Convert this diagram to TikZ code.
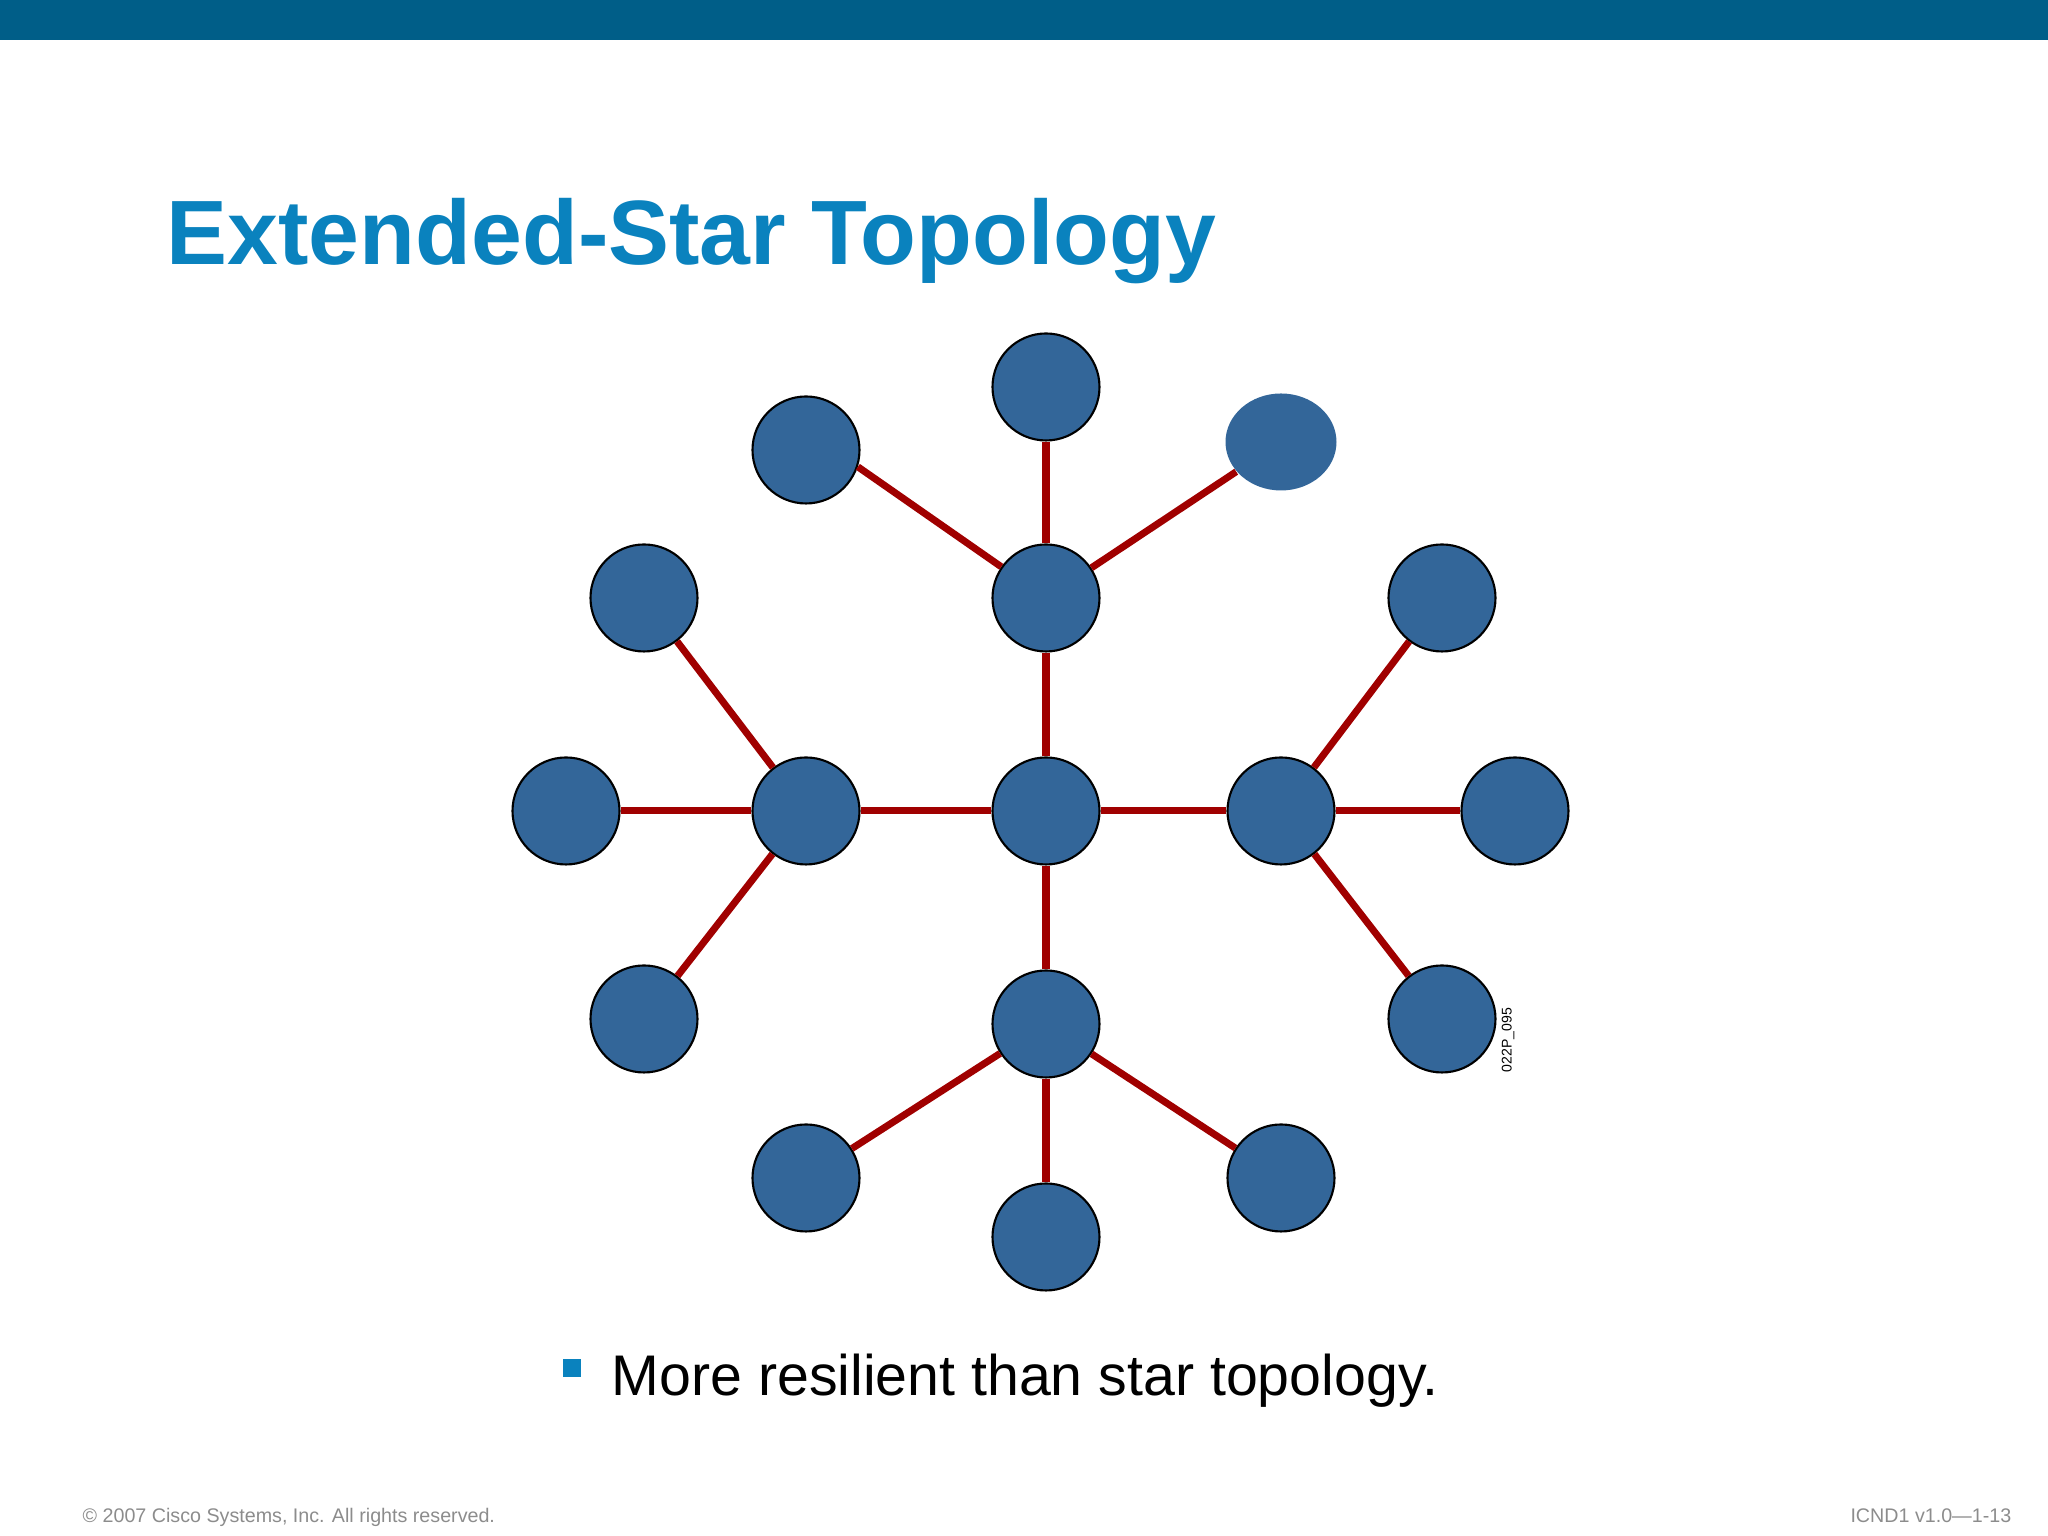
\documentclass[tikz,border=0pt]{standalone}
\usepackage{fontspec}
\setmainfont{Liberation Sans}
\usepackage{tikz}
\usetikzlibrary{shapes.geometric, positioning}
\definecolor{barblue}{HTML}{005E88}
\definecolor{titleblue}{HTML}{0A82BE}
\definecolor{nodeblue}{HTML}{336699}
\definecolor{linkred}{HTML}{A00000}
\definecolor{footgrey}{HTML}{8C8C8C}

\begin{document}
\begin{tikzpicture}[
		station/.style={circle, draw=black, line width=0.6pt, fill=nodeblue, minimum size=1.07cm, inner sep=0pt},
		link/.style={linkred, line width=2pt},
		foot/.style={footgrey, font=\fontsize{5.6}{6}\selectfont, inner sep=0pt}
	]
		\useasboundingbox (0,0) rectangle (20.48,15.36);
		\fill[barblue] (0,14.96) rectangle (20.48,15.36);
		\node[anchor=base west, inner sep=0pt, text=titleblue, font=\fontsize{26}{30}\selectfont\bfseries] (title) at (1.66,12.71) {Extended-Star Topology};

		\node[station] (c) at (10.46,7.25) {};
		\node[station] (t) at (10.46,9.38) {};
		\node[station] (l) at (8.06,7.25) {};
		\node[station] (r) at (12.81,7.25) {};
		\node[station] (b) at (10.46,5.12) {};
		\node[station] (tt) at (10.46,11.49) {};
		\node[station] (tl) at (8.06,10.86) {};
		\node[ellipse, fill=nodeblue, minimum width=1.11cm, minimum height=0.97cm, inner sep=0pt] (tr) at (12.81,10.94) {};
		\node[station] (l1) at (6.44,9.38) {};
		\node[station] (l2) at (5.66,7.25) {};
		\node[station] (l3) at (6.44,5.17) {};
		\node[station] (r1) at (14.42,9.38) {};
		\node[station] (r2) at (15.15,7.25) {};
		\node[station] (r3) at (14.42,5.17) {};
		\node[station] (b1) at (8.06,3.58) {};
		\node[station] (b2) at (10.46,2.99) {};
		\node[station] (b3) at (12.81,3.58) {};

		\foreach \hub/\leaf in {c/t, c/l, c/r, c/b, t/tt, t/tr, l/l1, l/l2, l/l3, r/r1, r/r2, r/r3, b/b1, b/b2, b/b3}
		\draw[link] (\hub) -- (\leaf);
		\draw[link] (tl.-18) -- (t);

		\node[rotate=90, inner sep=0pt, font=\fontsize{4}{5}\selectfont] (tag) at (15.08,4.96) {022P\_095};

		\fill[titleblue] (5.63,1.59) rectangle (5.81,1.77);
		\node[anchor=base west, inner sep=0pt, font=\fontsize{16.3}{20}\selectfont] (bullet) at (6.11,1.40) {More resilient than star topology.};

		\node[foot, anchor=base west] (copy) at (0.82,0.13) {© 2007 Cisco Systems, Inc. All rights reserved.};
		\node[foot, anchor=base east] (slide) at (20.12,0.13) {ICND1 v1.0—1-13};
	\end{tikzpicture}
\end{document}
